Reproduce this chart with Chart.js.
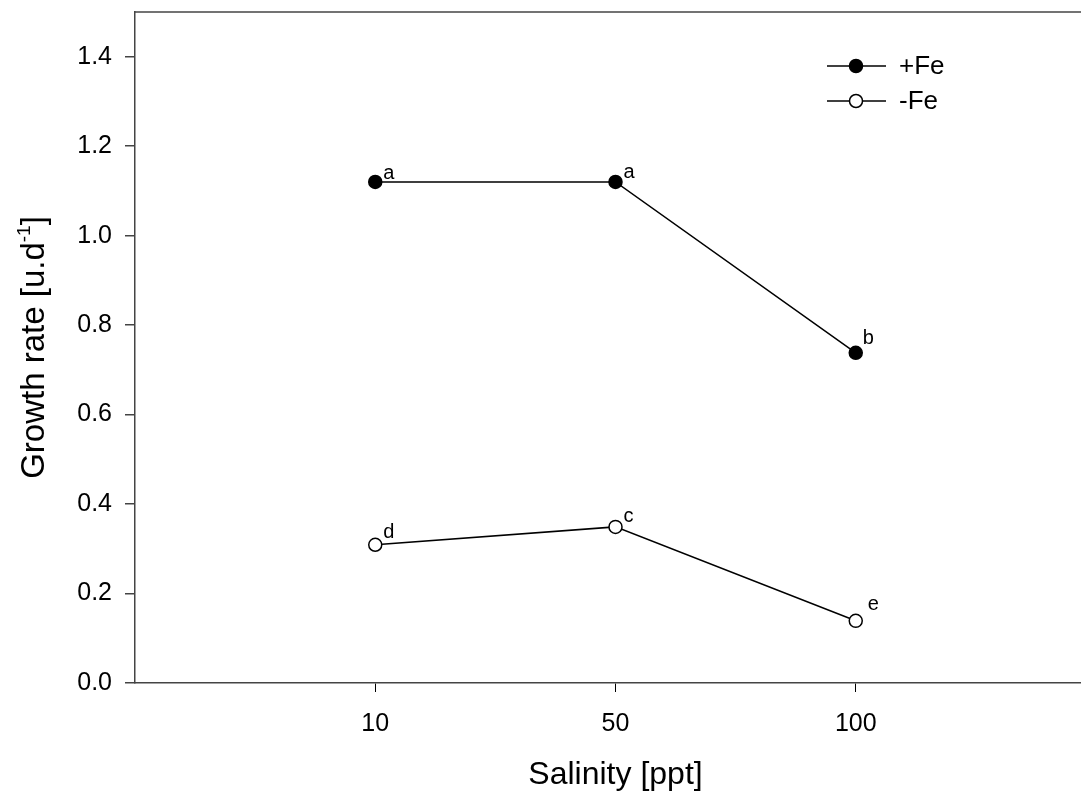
<!DOCTYPE html>
<html>
<head>
<meta charset="utf-8">
<script src="https://cdn.jsdelivr.net/npm/chart.js@4/dist/chart.umd.min.js"></script>
<style>
  html, body { margin: 0; padding: 0; background: #fff; overflow: hidden; }
  /* plot extends slightly past the right edge of the window, as in the source figure */
  #wrap { width: 1104px; height: 794px; position: relative; }
</style>
</head>
<body>
<div id="wrap"><canvas id="growthChart"></canvas></div>
<script>
  const salinity = ['10', '50', '100'];
  const plusFe = [1.12, 1.12, 0.738];
  const minusFe = [0.309, 0.349, 0.139];
  const plusFeLetters = ['a', 'a', 'b'];
  const minusFeLetters = ['d', 'c', 'e'];
  const yTicks = [0, 0.2, 0.4, 0.6, 0.8, 1.0, 1.2, 1.4];

  const FONT = '"Liberation Sans", Arial, sans-serif';
  const axisColor = '#444';

  const toPoints = (values) => values.map((v, i) => ({ x: i + 1, y: v }));

  // letter offsets from each marker, [dataset][point] -> [dx, dy]
  const letterOffsets = [
    [[8, -3], [8, -4], [7, -9]],
    [[8, -7], [8, -5], [12, -11]],
  ];

  // frame top line, y title with superscript, significance letters, legend
  const decorations = {
    id: 'decorations',
    afterDatasetsDraw(chart) {
      const { ctx, chartArea } = chart;
      ctx.save();
      ctx.strokeStyle = axisColor;
      ctx.lineWidth = 1.5;
      ctx.beginPath();
      ctx.moveTo(chartArea.left, chartArea.top);
      ctx.lineTo(chartArea.right, chartArea.top);
      ctx.stroke();

      // y axis title
      ctx.save();
      const cy = (chartArea.top + chartArea.bottom) / 2;
      ctx.translate(44, cy);
      ctx.rotate(-Math.PI / 2);
      ctx.fillStyle = '#000';
      ctx.textBaseline = 'alphabetic';
      ctx.textAlign = 'left';
      const mainA = 'Growth rate [u.d';
      const sup = '-1';
      const mainB = ']';
      ctx.font = `33px ${FONT}`;
      const wA = ctx.measureText(mainA).width;
      const wB = ctx.measureText(mainB).width;
      ctx.font = `19px ${FONT}`;
      const wS = ctx.measureText(sup).width;
      let x = -(wA + wS + wB) / 2;
      ctx.font = `33px ${FONT}`;
      ctx.fillText(mainA, x, 0);
      x += wA;
      ctx.font = `19px ${FONT}`;
      ctx.fillText(sup, x, -14);
      x += wS;
      ctx.font = `33px ${FONT}`;
      ctx.fillText(mainB, x, 0);
      ctx.restore();

      ctx.fillStyle = '#000';
      ctx.font = `20px ${FONT}`;
      ctx.textAlign = 'left';
      ctx.textBaseline = 'alphabetic';
      const letterSets = [plusFeLetters, minusFeLetters];
      letterSets.forEach((letters, di) => {
        const meta = chart.getDatasetMeta(di);
        meta.data.forEach((pt, i) => {
          const [dx, dy] = letterOffsets[di][i];
          ctx.fillText(letters[i], pt.x + dx, pt.y + dy);
        });
      });

      // legend
      const items = [
        { label: '+Fe', fill: '#000' },
        { label: '-Fe', fill: '#fff' },
      ];
      items.forEach((item, i) => {
        const y = 66 + i * 35;
        ctx.strokeStyle = '#000';
        ctx.lineWidth = 1.5;
        ctx.beginPath();
        ctx.moveTo(827, y);
        ctx.lineTo(886, y);
        ctx.stroke();
        ctx.beginPath();
        ctx.arc(856, y, 6.5, 0, Math.PI * 2);
        ctx.fillStyle = item.fill;
        ctx.fill();
        ctx.stroke();
        ctx.fillStyle = '#000';
        ctx.font = `26px ${FONT}`;
        ctx.textBaseline = 'middle';
        ctx.fillText(item.label, 899, y + 1);
      });
      ctx.restore();
    },
  };

  new Chart(document.getElementById('growthChart'), {
    type: 'line',
    data: {
      datasets: [
        {
          label: '+Fe',
          data: toPoints(plusFe),
          borderColor: '#000',
          borderWidth: 1.5,
          backgroundColor: '#000',
          pointBackgroundColor: '#000',
          pointBorderColor: '#000',
          pointBorderWidth: 1.5,
          pointRadius: 6.5,
          tension: 0,
        },
        {
          label: '-Fe',
          data: toPoints(minusFe),
          borderColor: '#000',
          borderWidth: 1.5,
          backgroundColor: '#fff',
          pointBackgroundColor: '#fff',
          pointBorderColor: '#000',
          pointBorderWidth: 1.5,
          pointRadius: 6.5,
          tension: 0,
        },
      ],
    },
    options: {
      responsive: true,
      maintainAspectRatio: false,
      animation: false,
      layout: { padding: { top: 12, right: 0, left: 0, bottom: 0 } },
      plugins: {
        legend: { display: false },
        tooltip: { enabled: false },
      },
      scales: {
        x: {
          type: 'linear',
          min: 0,
          max: 4,
          afterBuildTicks(scale) {
            scale.ticks = salinity.map((_, i) => ({ value: i + 1 }));
          },
          afterFit(scale) {
            scale.height = 111;
            scale.paddingLeft = 0;
            scale.paddingRight = 0;
          },
          ticks: {
            color: '#000',
            font: { family: FONT, size: 25 },
            padding: 17,
            maxRotation: 0,
            callback: (v) => salinity[v - 1] ?? '',
          },
          grid: {
            drawOnChartArea: false,
            tickLength: 9,
            color: '#000',
            lineWidth: 1,
          },
          border: { color: axisColor, width: 1.5 },
          title: {
            display: true,
            text: 'Salinity [ppt]',
            color: '#000',
            font: { family: FONT, size: 32 },
            padding: { top: 0, bottom: 0 },
          },
        },
        y: {
          min: 0,
          max: 1.5,
          afterBuildTicks(scale) {
            scale.ticks = yTicks.map((v) => ({ value: v }));
          },
          afterFit(scale) {
            scale.width = 135;
            scale.paddingTop = 0;
            scale.paddingBottom = 0;
          },
          ticks: {
            color: '#000',
            font: { family: FONT, size: 25 },
            padding: 13,
            callback: (v) => v.toFixed(1),
          },
          grid: {
            drawOnChartArea: false,
            tickLength: 10,
            color: axisColor,
            lineWidth: 1.5,
          },
          border: { color: axisColor, width: 1.5 },
          title: { display: false },
        },
      },
    },
    plugins: [decorations],
  });
</script>
</body>
</html>
